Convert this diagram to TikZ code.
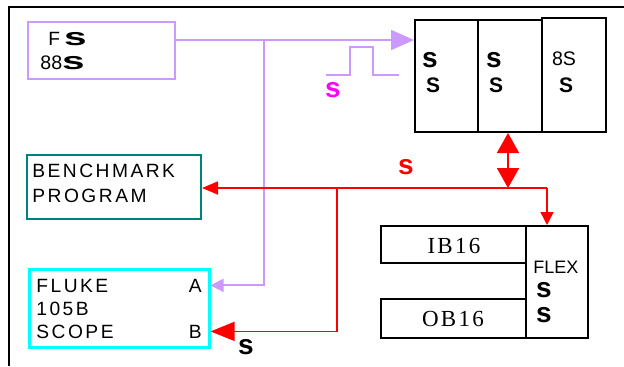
\documentclass[tikz,border=0pt]{standalone}
\usepackage{fontspec}
\setmainfont{Liberation Serif}
\setsansfont{Liberation Sans}
\newfontfamily\spacedsans[LetterSpace=13]{Liberation Sans}
\newfontfamily\spacedserif[LetterSpace=10]{Liberation Serif}
\usepackage{tikz}
\usetikzlibrary{arrows.meta}

\definecolor{lilac}{RGB}{204,153,255}
\definecolor{tealline}{RGB}{0,128,128}
\definecolor{cyanline}{RGB}{0,255,255}
\definecolor{pink}{RGB}{255,0,255}
\definecolor{redline}{RGB}{255,0,0}
\newcommand{\blob}{{\fontsize{13.5}{13}\selectfont\sffamily\bfseries s}}

\begin{document}
\begin{tikzpicture}[x=0.5pt, y=-0.5pt, font=\fontsize{9.6}{10}\sffamily,
    box/.style={draw, line width=1pt, inner sep=0pt},
    lilacline/.style={draw=lilac, line width=1pt},
    redbus/.style={draw=redline, line width=0.9pt},
    thinred/.style={draw=redline, line width=0.7pt},
    mark glyph/.style={inner sep=0pt, font=\fontsize{14}{13}\sffamily\bfseries},
    cap glyph/.style={inner sep=0pt, font=\fontsize{10.5}{10}\sffamily\bfseries},
    txt/.style={inner sep=0pt, font=\fontsize{9.6}{10}\spacedsans}]
    \useasboundingbox (0,0) rectangle (624,366);
    % ---------------- frame
    \draw[line width=0.8pt] (9,366) -- (9,7) -- (624,7);
    % ---------------- boxes
    \node[box, draw=lilac, minimum width=73.5pt, minimum height=28.5pt] (ctrl) at (101.5,50.5) {};
    \node[box, minimum width=31.5pt, minimum height=56pt] (rack1) at (446.5,76) {};
    \node[box, minimum width=32pt, minimum height=56pt] (rack2) at (510,76) {};
    \node[box, minimum width=32pt, minimum height=57pt] (rack3) at (574,75) {};
    \node[box, draw=tealline, minimum width=87pt, minimum height=32pt] (bench) at (114,187) {};
    \node[box, draw=cyanline, line width=1.5pt, minimum width=90pt, minimum height=39pt] (fluke) at (119,308) {};
    \node[box, minimum width=72.5pt, minimum height=18.5pt] (ib) at (453.5,244.5) {};
    \node[box, minimum width=72.5pt, minimum height=19.5pt] (ob) at (453.5,318.5) {};
    \node[box, minimum width=31pt, minimum height=56pt] (flex) at (557,282) {};
    % ---------------- texts
    \node[inner sep=0pt, anchor=base west] (ctrlA) at (48,45) {F\hspace{2pt}\scalebox{1.5}[0.9]{\blob}};
    \node[inner sep=0pt, anchor=base west, font=\fontsize{9.8}{10}\sffamily] (ctrlB) at (40,69) {88\scalebox{1.5}[0.9]{\blob}};
    \node[mark glyph] (r1a) at (430,60) {s};
    \node[cap glyph] (r1b) at (433,85) {S};
    \node[mark glyph] (r2a) at (494,60) {s};
    \node[cap glyph] (r2b) at (496,85) {S};
    \node[inner sep=0pt, font=\fontsize{9.8}{10}\sffamily] (r3a) at (564,59) {8S};
    \node[cap glyph] (r3b) at (566,85) {S};
    \node[txt, anchor=base west] (benchA) at (32,177) {BENCHMARK};
    \node[txt, anchor=base west] (benchB) at (32,202) {PROGRAM};
    \node[txt, anchor=base west] (flukeA) at (36,292) {FLUKE};
    \node[txt, anchor=base west] (flukeB) at (36,315) {105B};
    \node[txt, anchor=base west] (flukeC) at (36,338) {SCOPE};
    \node[inner sep=0pt, anchor=base east] (chA) at (202,292) {A};
    \node[inner sep=0pt, anchor=base east] (chB) at (202,338) {B};
    \node[inner sep=0pt, anchor=base, font=\fontsize{11.5}{12}\spacedserif] (ibtxt) at (454,253) {IB16};
    \node[inner sep=0pt, anchor=base, font=\fontsize{11.5}{12}\spacedserif] (obtxt) at (453,326) {OB16};
    \node[inner sep=0pt, anchor=base west, font=\fontsize{9}{10}\sffamily] (flextxt) at (533,273) {FLEX};
    \node[mark glyph] (fxa) at (544,290) {s};
    \node[mark glyph] (fxb) at (544,315) {s};
    \node[mark glyph, text=pink] (pulselbl) at (333,90) {s};
    \node[mark glyph, text=redline] (buslbl) at (406,167) {s};
    \node[mark glyph] (chBlbl) at (246,347) {s};
    % ---------------- lilac bus
    \coordinate (tap) at (264,40);
    \draw[lilacline, -{Triangle[length=11.5pt, width=10pt]}] (ctrl.east |- tap) -- (rack1.west |- tap);
    \draw[lilacline, -{Triangle[length=6.5pt, width=6.5pt]}] (tap) |- (fluke.east |- chA);
    \draw[lilacline] (326,75) -- ++(24,0) -- ++(0,-28) -- ++(23,0) -- ++(0,28) -- ++(26,0);
    % ---------------- red bus
    \coordinate (redcorner) at (547,188);
    \coordinate (redjoin) at (508,188);
    \coordinate (redtap) at (337,188);
    \draw[redbus, -{Triangle[length=8pt, width=6.5pt]}] (redcorner) -- (bench.east |- redcorner);
    \draw[thinred, -{Triangle[length=6.5pt, width=6.5pt]}] (redcorner) -- (redcorner |- flex.north);
    \draw[redbus, {Triangle[length=10pt, width=11pt]}-{Triangle[length=10pt, width=11pt]}] (redjoin |- rack2.south) -- (redjoin);
    \draw[thinred, -{Triangle[length=12pt, width=9.5pt]}] (redtap) |- (fluke.east |- chB);
\end{tikzpicture}
\end{document}
